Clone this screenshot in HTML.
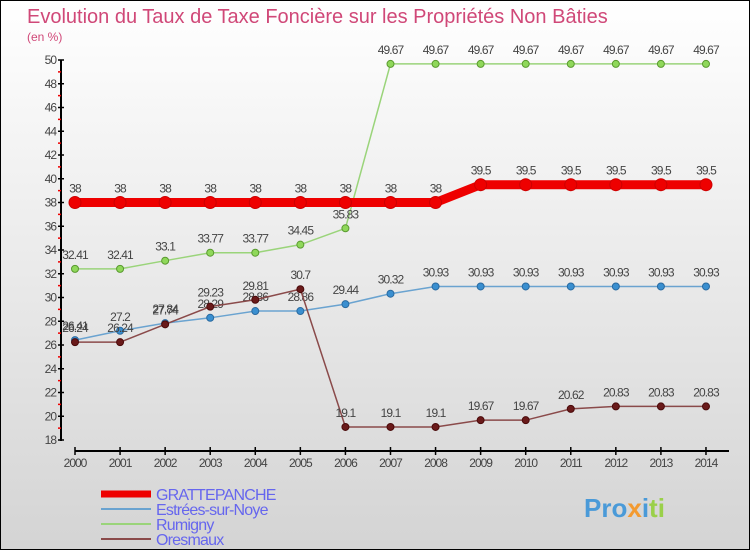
<!DOCTYPE html>
<html><head><meta charset="utf-8"><style>
body{margin:0}
#c{width:748px;height:548px;border:1px solid #000;background:linear-gradient(#fff,#d4d4d4);position:relative;overflow:hidden;font-family:"Liberation Sans",sans-serif}
</style></head><body>
<div id="c">
<svg id="s" width="748" height="548">
<text x="26" y="22" font-size="20" fill="#d04878" font-weight="300">Evolution du Taux de Taxe Foncière sur les Propriétés Non Bâties</text>
<text x="26" y="40" font-size="12" fill="#d04878">(en %)</text>
</svg>
</div>
<script>
const years=[2000,2001,2002,2003,2004,2005,2006,2007,2008,2009,2010,2011,2012,2013,2014];
const yTicks=[18,20,22,24,26,28,30,32,34,36,38,40,42,44,46,48,50];
const grattepanche=[38,38,38,38,38,38,38,38,38,39.5,39.5,39.5,39.5,39.5,39.5];
const estrees=[26.41,27.2,27.84,28.29,28.86,28.86,29.44,30.32,30.93,30.93,30.93,30.93,30.93,30.93,30.93];
const rumigny=[32.41,32.41,33.1,33.77,33.77,34.45,35.83,49.67,49.67,49.67,49.67,49.67,49.67,49.67,49.67];
const oresmaux=[26.24,26.24,27.74,29.23,29.81,30.7,19.1,19.1,19.1,19.67,19.67,20.62,20.83,20.83,20.83];
const NS='http://www.w3.org/2000/svg',s=document.getElementById('s');
const X=i=>74+i*45.07, Y=v=>59+(50-v)*11.875;
function el(t,a,p){const e=document.createElementNS(NS,t);for(const k in a)e.setAttribute(k,a[k]);(p||s).appendChild(e);return e;}
const ya=el('line',{x1:60,y1:59,x2:60,y2:440,stroke:'#000','stroke-width':2});


yTicks.forEach(v=>{
 el('line',{x1:57,x2:63,y1:Y(v),y2:Y(v),stroke:'#000','stroke-width':1.5});
 if(v<50){el('line',{x1:57,x2:60,y1:Y(v+1),y2:Y(v+1),stroke:'#e00','stroke-width':1.5});}
 const t=el('text',{x:55,y:Y(v)+4,'font-size':12,fill:'#444','text-anchor':'end','letter-spacing':'-1'});
 t.textContent=v;
 
 
});
const xa=el('line',{x1:74,y1:450,x2:728,y2:450,stroke:'#000','stroke-width':2});


years.forEach((y,i)=>{
 el('line',{x1:X(i),x2:X(i),y1:446,y2:454,stroke:'#000','stroke-width':1.5});
 const t=el('text',{x:X(i),y:466,'font-size':12,fill:'#444','text-anchor':'middle','letter-spacing':'-1'});
 t.textContent=y;
 
 
});
function series(name,vals,color,w,r,dot,stroke){
 const g=el('g',{});
 
 
 el('polyline',{points:vals.map((v,i)=>X(i)+','+Y(v)).join(' '),fill:'none',stroke:color,'stroke-width':w},g);
 vals.forEach((v,i)=>{
  const c=el('circle',{cx:X(i),cy:Y(v),r:r,fill:dot,stroke:stroke,'stroke-width':1},g);
  
  
  const t=el('text',{x:X(i),y:Y(v)-10,'font-size':12,fill:'#444','text-anchor':'middle','letter-spacing':'-0.9'},g);
  t.textContent=v;
  
  
 });
}
series('rumigny',rumigny,'#9ad47a',1.5,3.5,'#8fd85a','#5a9a30');
series('estrees',estrees,'#6aa3d0',1.5,3.5,'#3a8fd0','#2a6aa0');
series('oresmaux',oresmaux,'#8a4a4a',1.5,3.5,'#6a1a1a','#4a0a0a');
series('grattepanche',grattepanche,'#ee0000',9,6,'#ee0000','#c00');
const leg=[['GRATTEPANCHE','#ee0000',7],['Estrées-sur-Noye','#6aa3d0',2],['Rumigny','#9ad47a',2],['Oresmaux','#8a4a4a',2]];
leg.forEach((l,i)=>{
 const g=el('g',{});
 
 
 const y=493+i*15;
 el('line',{x1:100,x2:150,y1:y,y2:y,stroke:l[1],'stroke-width':l[2]},g);
 const t=el('text',{x:155,y:y+6,'font-size':16,fill:'#6666ee','letter-spacing':'-0.8'},g);
 t.textContent=l[0];
});
const lg=el('text',{x:583,y:516,'font-size':26,'font-weight':'bold',fill:'#4a9ad8'});


lg.innerHTML='Pro<tspan fill="#f39a30">x</tspan><tspan fill="#4a9ad8">i</tspan><tspan fill="#9ad04a">ti</tspan>';
</script>
</body></html>
